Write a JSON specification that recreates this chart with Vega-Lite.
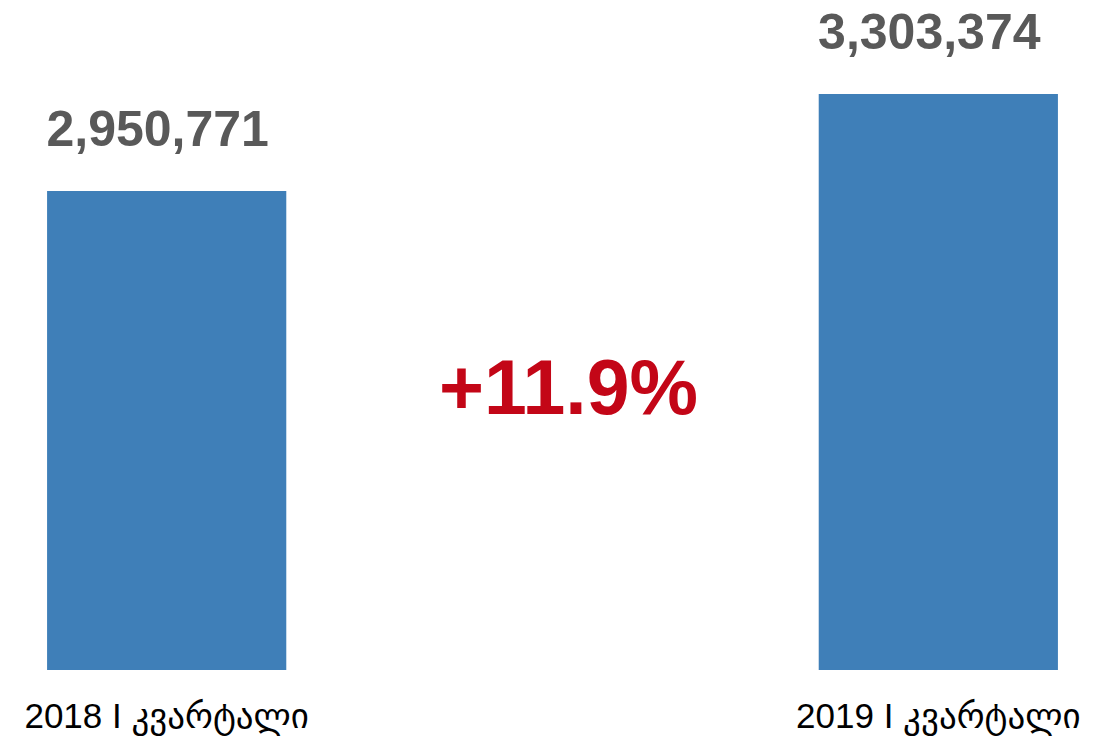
{
  "$schema": "https://vega.github.io/schema/vega-lite/v6.json",
  "width": 1105,
  "height": 670,
  "autosize": {"type": "none"},
  "padding": {"left": 0, "top": 0, "right": 11, "bottom": 74},
  "background": "white",
  "config": {"view": {"stroke": null}},
  "data": {
    "values": [
      {"period": "2018 I კვარტალი", "visitors": 2950771},
      {"period": "2019 I კვარტალი", "visitors": 3303374}
    ]
  },
  "layer": [
    {
      "mark": {"type": "bar", "color": "#3f7fb8", "clip": true},
      "encoding": {
        "x": {
          "field": "period", "type": "nominal", "sort": null,
          "scale": {"paddingInner": 0.69, "paddingOuter": 0.061},
          "axis": {
            "title": null, "domain": false, "ticks": false, "labelAngle": 0,
            "labelFont": "Liberation Sans, Arial, DejaVu Sans", "labelFontSize": 35,
            "labelColor": "#000000", "labelPadding": 29, "labelLimit": 0, "labelDx": 6
          }
        },
        "y": {
          "field": "visitors", "type": "quantitative",
          "scale": {"domain": [1209571, 3645074], "zero": false, "nice": false},
          "axis": null
        }
      }
    },
    {
      "mark": {
        "type": "text", "baseline": "alphabetic", "dy": -45, "dx": -9,
        "font": "Liberation Sans, Arial", "fontSize": 50, "fontWeight": "bold", "color": "#595959"
      },
      "encoding": {
        "x": {"field": "period", "type": "nominal", "sort": null},
        "y": {"field": "visitors", "type": "quantitative"},
        "text": {"field": "visitors", "type": "quantitative", "format": ",d"}
      }
    },
    {
      "data": {"values": [{"change": "+11.9%"}]},
      "mark": {
        "type": "text", "baseline": "middle", "align": "center", "dx": 16,
        "font": "Liberation Sans, Arial", "fontSize": 77, "fontWeight": "bold", "color": "#c30617"
      },
      "encoding": {
        "y": {"datum": 2222000, "type": "quantitative"},
        "text": {"field": "change"}
      }
    }
  ]
}
